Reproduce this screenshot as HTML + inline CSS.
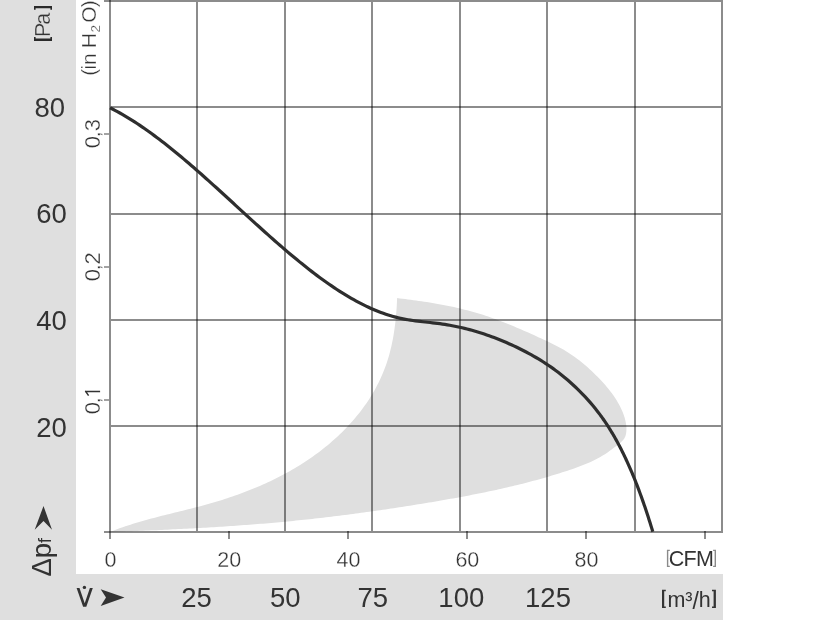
<!DOCTYPE html>
<html><head><meta charset="utf-8"><style>
html,body{margin:0;padding:0;background:#fff;}
body{width:816px;height:624px;overflow:hidden;position:relative;}
svg{position:absolute;left:0;top:0;will-change:transform;}
text{font-family:"Liberation Sans",sans-serif;fill:#333;}
</style></head><body>
<svg width="816" height="624" viewBox="0 0 816 624">
<rect x="0" y="0" width="76" height="620" fill="#dfdfdf"/>
<rect x="0" y="574" width="723" height="46" fill="#dfdfdf"/>
<path d="M110.00,532.00 L112.54,530.99 L115.09,530.00 L117.64,529.04 L120.20,528.11 L122.77,527.21 L125.34,526.33 L127.92,525.47 L130.50,524.63 L133.08,523.82 L135.67,523.02 L138.27,522.24 L140.87,521.48 L143.47,520.74 L146.08,520.01 L148.69,519.29 L151.30,518.59 L153.92,517.90 L156.54,517.21 L159.16,516.54 L161.78,515.87 L164.41,515.21 L167.03,514.56 L169.66,513.91 L172.29,513.26 L174.92,512.61 L177.55,511.97 L180.18,511.32 L182.81,510.67 L185.44,510.02 L188.07,509.36 L190.70,508.70 L193.33,508.03 L195.96,507.35 L198.58,506.67 L201.21,505.97 L203.83,505.26 L206.45,504.54 L209.07,503.81 L211.68,503.06 L214.29,502.29 L216.90,501.51 L219.51,500.72 L222.11,499.90 L224.71,499.07 L227.30,498.23 L229.88,497.37 L232.47,496.49 L235.04,495.59 L237.61,494.68 L240.18,493.75 L242.74,492.80 L245.29,491.83 L247.83,490.85 L250.37,489.85 L252.89,488.83 L255.41,487.79 L257.92,486.73 L260.43,485.65 L262.92,484.55 L265.40,483.44 L267.88,482.30 L270.34,481.15 L272.79,479.97 L275.24,478.77 L277.67,477.56 L280.09,476.32 L282.49,475.06 L284.89,473.78 L287.27,472.48 L289.64,471.15 L292.00,469.81 L294.34,468.44 L296.67,467.05 L298.99,465.64 L301.29,464.20 L303.58,462.74 L305.85,461.26 L308.10,459.76 L310.34,458.23 L312.57,456.68 L314.78,455.10 L316.97,453.51 L319.14,451.88 L321.30,450.23 L323.44,448.56 L325.56,446.86 L327.66,445.14 L329.74,443.39 L331.81,441.62 L333.85,439.82 L335.87,438.00 L337.87,436.15 L339.85,434.28 L341.80,432.38 L343.73,430.46 L345.64,428.52 L347.52,426.55 L349.37,424.56 L351.20,422.55 L352.99,420.51 L354.76,418.45 L356.50,416.37 L358.22,414.26 L359.90,412.13 L361.55,409.98 L363.16,407.81 L364.75,405.61 L366.30,403.39 L367.82,401.15 L369.30,398.89 L370.75,396.61 L372.16,394.30 L373.53,391.98 L374.87,389.63 L376.17,387.26 L377.43,384.87 L378.65,382.46 L379.82,380.03 L380.96,377.58 L382.06,375.11 L383.11,372.62 L384.12,370.11 L385.09,367.57 L386.01,365.02 L386.89,362.45 L387.72,359.86 L388.51,357.26 L389.26,354.64 L389.96,352.00 L390.63,349.35 L391.26,346.69 L391.85,344.02 L392.41,341.34 L392.92,338.65 L393.41,335.95 L393.86,333.25 L394.28,330.54 L394.66,327.83 L395.02,325.11 L395.34,322.40 L395.64,319.68 L395.91,316.97 L396.15,314.26 L396.37,311.55 L396.56,308.84 L396.73,306.15 L396.87,303.46 L397.00,300.77 L397.10,298.10 L399.81,298.42 L402.52,298.75 L405.23,299.09 L407.94,299.43 L410.66,299.78 L413.37,300.15 L416.08,300.52 L418.80,300.90 L421.51,301.29 L424.22,301.70 L426.94,302.12 L429.64,302.55 L432.35,302.99 L435.06,303.45 L437.76,303.93 L440.46,304.42 L443.16,304.92 L445.85,305.45 L448.54,305.99 L451.22,306.54 L453.90,307.12 L456.58,307.72 L459.25,308.33 L461.91,308.97 L464.57,309.63 L467.22,310.31 L469.87,311.01 L472.51,311.73 L475.14,312.48 L477.76,313.25 L480.38,314.05 L482.99,314.87 L485.59,315.72 L488.18,316.59 L490.77,317.48 L493.35,318.39 L495.92,319.32 L498.48,320.27 L501.04,321.24 L503.60,322.23 L506.14,323.23 L508.68,324.25 L511.22,325.29 L513.75,326.34 L516.28,327.40 L518.80,328.47 L521.32,329.56 L523.84,330.65 L526.35,331.76 L528.85,332.87 L531.36,333.99 L533.86,335.12 L536.36,336.25 L538.85,337.39 L541.35,338.53 L543.83,339.68 L546.32,340.84 L548.79,342.02 L551.25,343.21 L553.71,344.43 L556.14,345.67 L558.56,346.95 L560.96,348.26 L563.33,349.60 L565.68,350.99 L568.01,352.42 L570.30,353.90 L572.57,355.43 L574.81,357.01 L577.02,358.63 L579.20,360.30 L581.35,362.00 L583.48,363.75 L585.57,365.53 L587.64,367.34 L589.68,369.18 L591.70,371.06 L593.69,372.96 L595.65,374.89 L597.58,376.84 L599.49,378.81 L601.37,380.80 L603.22,382.82 L605.04,384.86 L606.81,386.92 L608.55,389.02 L610.24,391.16 L611.88,393.32 L613.47,395.53 L614.99,397.78 L616.46,400.08 L617.86,402.43 L619.20,404.82 L620.46,407.27 L621.64,409.78 L622.74,412.34 L623.73,414.95 L624.60,417.60 L625.32,420.28 L625.88,422.97 L626.26,425.68 L626.43,428.39 L626.37,431.10 L626.06,433.78 L625.39,436.36 L624.16,438.70 L622.44,440.79 L620.42,442.70 L618.27,444.48 L616.06,446.18 L613.84,447.83 L611.64,449.48 L609.46,451.11 L607.24,452.68 L604.98,454.18 L602.67,455.61 L600.33,456.98 L597.96,458.29 L595.55,459.54 L593.11,460.74 L590.64,461.90 L588.14,463.00 L585.63,464.07 L583.09,465.10 L580.53,466.09 L577.96,467.05 L575.37,467.98 L572.78,468.89 L570.17,469.78 L567.56,470.65 L564.95,471.51 L562.33,472.36 L559.71,473.19 L557.09,474.01 L554.46,474.82 L551.83,475.61 L549.20,476.40 L546.57,477.17 L543.93,477.93 L541.29,478.68 L538.65,479.42 L536.01,480.14 L533.37,480.86 L530.72,481.57 L528.07,482.26 L525.42,482.95 L522.76,483.63 L520.11,484.29 L517.45,484.95 L514.79,485.60 L512.13,486.24 L509.46,486.87 L506.80,487.49 L504.13,488.10 L501.46,488.70 L498.79,489.30 L496.12,489.89 L493.44,490.47 L490.77,491.04 L488.09,491.61 L485.41,492.17 L482.73,492.72 L480.05,493.26 L477.36,493.80 L474.68,494.33 L471.99,494.86 L469.30,495.38 L466.61,495.89 L463.92,496.40 L461.23,496.90 L458.54,497.40 L455.85,497.89 L453.15,498.38 L450.46,498.86 L447.76,499.34 L445.07,499.81 L442.37,500.28 L439.67,500.75 L436.97,501.21 L434.27,501.67 L431.57,502.13 L428.87,502.58 L426.17,503.03 L423.46,503.48 L420.76,503.92 L418.06,504.36 L415.35,504.80 L412.65,505.23 L409.94,505.66 L407.24,506.09 L404.53,506.52 L401.83,506.94 L399.12,507.36 L396.41,507.77 L393.70,508.18 L390.99,508.59 L388.28,509.00 L385.57,509.40 L382.86,509.80 L380.15,510.19 L377.44,510.59 L374.73,510.97 L372.02,511.36 L369.30,511.74 L366.59,512.12 L363.87,512.49 L361.16,512.86 L358.45,513.23 L355.73,513.59 L353.01,513.95 L350.30,514.31 L347.58,514.66 L344.86,515.01 L342.15,515.35 L339.43,515.69 L336.71,516.03 L333.99,516.37 L331.27,516.70 L328.55,517.02 L325.83,517.34 L323.11,517.66 L320.39,517.98 L317.67,518.29 L314.94,518.59 L312.22,518.89 L309.50,519.19 L306.77,519.49 L304.05,519.78 L301.33,520.06 L298.60,520.34 L295.88,520.62 L293.15,520.90 L290.43,521.17 L287.70,521.43 L284.97,521.69 L282.25,521.95 L279.52,522.20 L276.79,522.45 L274.06,522.69 L271.34,522.93 L268.61,523.17 L265.88,523.40 L263.15,523.63 L260.42,523.85 L257.69,524.07 L254.96,524.29 L252.23,524.51 L249.50,524.72 L246.77,524.92 L244.04,525.12 L241.31,525.32 L238.57,525.52 L235.84,525.71 L233.11,525.90 L230.38,526.09 L227.64,526.27 L224.91,526.45 L222.18,526.63 L219.44,526.80 L216.71,526.98 L213.98,527.14 L211.24,527.31 L208.51,527.47 L205.77,527.63 L203.04,527.79 L200.30,527.95 L197.57,528.10 L194.83,528.25 L192.10,528.40 L189.36,528.54 L186.63,528.68 L183.89,528.83 L181.16,528.96 L178.42,529.10 L175.68,529.24 L172.95,529.37 L170.21,529.50 L167.47,529.63 L164.74,529.75 L162.00,529.88 L159.27,530.00 L156.53,530.13 L153.79,530.25 L151.05,530.36 L148.32,530.48 L145.58,530.60 L142.84,530.71 L140.11,530.83 L137.37,530.94 L134.63,531.05 L131.90,531.16 L129.16,531.27 L126.42,531.37 L123.68,531.48 L120.95,531.59 L118.21,531.69 L115.47,531.79 L112.74,531.90 L110.00,532.00 Z" fill="#dfdfdf"/>
<g shape-rendering="crispEdges">
<rect x="196" y="2" width="2" height="529" fill="rgba(0,0,0,0.45)"/>
<rect x="284" y="2" width="2" height="529" fill="rgba(0,0,0,0.45)"/>
<rect x="371" y="2" width="2" height="529" fill="rgba(0,0,0,0.45)"/>
<rect x="459" y="2" width="2" height="529" fill="rgba(0,0,0,0.45)"/>
<rect x="546" y="2" width="2" height="529" fill="rgba(0,0,0,0.45)"/>
<rect x="634" y="2" width="2" height="529" fill="rgba(0,0,0,0.45)"/>
<rect x="721" y="2" width="2" height="529" fill="rgba(0,0,0,0.45)"/>
<rect x="109" y="0" width="2" height="539" fill="rgba(0,0,0,0.45)"/>
<rect x="111" y="106" width="610" height="2" fill="rgba(0,0,0,0.45)"/>
<rect x="111" y="213" width="610" height="2" fill="rgba(0,0,0,0.45)"/>
<rect x="111" y="319" width="610" height="2" fill="rgba(0,0,0,0.45)"/>
<rect x="111" y="425" width="610" height="2" fill="rgba(0,0,0,0.45)"/>
<rect x="103.5" y="0" width="619.5" height="2" fill="rgba(0,0,0,0.45)"/>
<rect x="103.5" y="531" width="619.5" height="2" fill="rgba(0,0,0,0.45)"/>
<rect x="228" y="531" width="2" height="8" fill="rgba(0,0,0,0.45)"/>
<rect x="347" y="531" width="2" height="8" fill="rgba(0,0,0,0.45)"/>
<rect x="466" y="531" width="2" height="8" fill="rgba(0,0,0,0.45)"/>
<rect x="585" y="531" width="2" height="8" fill="rgba(0,0,0,0.45)"/>
<rect x="704" y="531" width="2" height="8" fill="rgba(0,0,0,0.45)"/>
</g>
<rect x="104" y="133.2" width="5" height="1.6" fill="rgba(0,0,0,0.45)"/>
<rect x="104" y="266.2" width="5" height="1.6" fill="rgba(0,0,0,0.45)"/>
<rect x="104" y="399.2" width="5" height="1.6" fill="rgba(0,0,0,0.45)"/>
<path d="M110.00,107.78 L112.46,109.02 L114.92,110.30 L117.39,111.63 L119.85,112.99 L122.31,114.39 L124.77,115.82 L127.24,117.29 L129.70,118.80 L132.16,120.34 L134.62,121.91 L137.09,123.51 L139.55,125.15 L142.01,126.82 L144.47,128.51 L146.93,130.24 L149.40,132.00 L151.86,133.78 L154.32,135.59 L156.78,137.43 L159.25,139.29 L161.71,141.17 L164.17,143.08 L166.63,145.02 L169.10,146.97 L171.56,148.95 L174.02,150.95 L176.48,152.96 L178.94,155.00 L181.41,157.06 L183.87,159.13 L186.33,161.22 L188.79,163.32 L191.26,165.44 L193.72,167.58 L196.18,169.73 L198.64,171.89 L201.11,174.06 L203.57,176.25 L206.03,178.44 L208.49,180.64 L210.95,182.86 L213.42,185.08 L215.88,187.31 L218.34,189.54 L220.80,191.79 L223.27,194.03 L225.73,196.28 L228.19,198.54 L230.65,200.79 L233.12,203.05 L235.58,205.31 L238.04,207.57 L240.50,209.83 L242.96,212.09 L245.43,214.34 L247.89,216.60 L250.35,218.85 L252.81,221.09 L255.28,223.33 L257.74,225.56 L260.20,227.79 L262.66,230.01 L265.13,232.22 L267.59,234.42 L270.05,236.62 L272.51,238.80 L274.97,240.97 L277.44,243.12 L279.90,245.27 L282.36,247.40 L284.82,249.52 L287.29,251.62 L289.75,253.70 L292.21,255.77 L294.67,257.82 L297.14,259.85 L299.60,261.87 L302.06,263.86 L304.52,265.83 L306.98,267.78 L309.45,269.71 L311.91,271.62 L314.37,273.50 L316.83,275.35 L319.30,277.19 L321.76,278.99 L324.22,280.77 L326.68,282.52 L329.15,284.24 L331.61,285.94 L334.07,287.60 L336.53,289.23 L338.99,290.83 L341.46,292.40 L343.92,293.94 L346.38,295.44 L348.84,296.90 L351.31,298.34 L353.77,299.73 L356.23,301.09 L358.69,302.41 L361.16,303.69 L363.62,304.93 L366.08,306.13 L368.54,307.30 L371.01,308.42 L373.47,309.49 L375.93,310.53 L378.39,311.52 L380.85,312.46 L383.32,313.37 L385.78,314.22 L388.24,315.03 L390.70,315.79 L393.17,316.51 L395.63,317.17 L398.09,317.79 L400.55,318.36 L403.02,318.88 L405.48,319.35 L407.94,319.78 L410.40,320.17 L412.86,320.53 L415.33,320.86 L417.79,321.17 L420.25,321.45 L422.71,321.73 L425.18,322.00 L427.64,322.26 L430.10,322.53 L432.56,322.80 L435.03,323.09 L437.49,323.39 L439.95,323.71 L442.41,324.06 L444.87,324.44 L447.34,324.84 L449.80,325.27 L452.26,325.72 L454.72,326.20 L457.19,326.71 L459.65,327.25 L462.11,327.81 L464.57,328.40 L467.04,329.02 L469.50,329.66 L471.96,330.33 L474.42,331.03 L476.88,331.75 L479.35,332.50 L481.81,333.28 L484.27,334.09 L486.73,334.92 L489.20,335.78 L491.66,336.67 L494.12,337.59 L496.58,338.53 L499.05,339.50 L501.51,340.50 L503.97,341.52 L506.43,342.58 L508.89,343.66 L511.36,344.77 L513.82,345.91 L516.28,347.07 L518.74,348.27 L521.21,349.49 L523.67,350.74 L526.13,352.02 L528.59,353.33 L531.06,354.68 L533.52,356.07 L535.98,357.49 L538.44,358.95 L540.90,360.46 L543.37,362.01 L545.83,363.60 L548.29,365.25 L550.75,366.94 L553.22,368.68 L555.68,370.48 L558.14,372.33 L560.60,374.24 L563.07,376.21 L565.53,378.24 L567.99,380.33 L570.45,382.49 L572.91,384.71 L575.38,387.00 L577.84,389.36 L580.30,391.79 L582.76,394.30 L585.23,396.89 L587.69,399.57 L590.15,402.36 L592.61,405.25 L595.08,408.26 L597.54,411.39 L600.00,414.65 L600.50,415.33 L601.16,416.24 L601.82,417.16 L602.49,418.09 L603.15,419.03 L603.81,419.98 L604.47,420.94 L605.13,421.92 L605.80,422.90 L606.46,423.90 L607.12,424.91 L607.78,425.93 L608.44,426.96 L609.11,428.01 L609.77,429.06 L610.43,430.13 L611.09,431.21 L611.75,432.31 L612.42,433.42 L613.08,434.54 L613.74,435.67 L614.40,436.82 L615.06,437.98 L615.73,439.16 L616.39,440.35 L617.05,441.55 L617.71,442.76 L618.37,444.00 L619.04,445.24 L619.70,446.50 L620.36,447.78 L621.02,449.07 L621.68,450.37 L622.35,451.70 L623.01,453.03 L623.67,454.38 L624.33,455.75 L624.99,457.14 L625.66,458.54 L626.32,459.95 L626.98,461.39 L627.64,462.83 L628.31,464.30 L628.97,465.78 L629.63,467.28 L630.29,468.80 L630.95,470.34 L631.62,471.89 L632.28,473.46 L632.94,475.04 L633.60,476.65 L634.26,478.27 L634.93,479.92 L635.59,481.58 L636.25,483.26 L636.91,484.95 L637.57,486.67 L638.24,488.41 L638.90,490.16 L639.56,491.94 L640.22,493.73 L640.88,495.55 L641.55,497.38 L642.21,499.23 L642.87,501.11 L643.53,503.00 L644.19,504.92 L644.86,506.85 L645.52,508.81 L646.18,510.79 L646.84,512.79 L647.50,514.81 L648.17,516.85 L648.83,518.91 L649.49,521.00 L650.15,523.10 L650.81,525.23 L651.48,527.39 L652.14,529.56 L652.80,531.76" fill="none" stroke="#2e2e2e" stroke-width="3.2"/>
<text x="34.45" y="117.20" font-size="27.5">80</text>
<text x="36.34" y="223.30" font-size="27.5">60</text>
<text x="36.28" y="329.50" font-size="27.5">40</text>
<text x="36.30" y="436.60" font-size="27.5">20</text>
<text transform="translate(50.00,24.84) rotate(-90)" font-size="21.5" stroke="#dfdfdf" stroke-width="0.3">a</text>
<text transform="translate(50.00,36.94) rotate(-90)" font-size="21.5" stroke="#dfdfdf" stroke-width="0.3">P</text>
<path d="M34,6 H52 V9.7 H50.4 V8.3 H35.6 V9.7 H34 Z M34,40.9 H52 V36.9 H50.4 V38.4 H35.6 V36.9 H34 Z" fill="#2a2a2a"/>
<text transform="translate(95.60,7.21) rotate(-90)" font-size="21" stroke="#fff" stroke-width="0.3">)</text>
<text transform="translate(95.60,22.76) rotate(-90)" font-size="21" stroke="#fff" stroke-width="0.3">O</text>
<text transform="translate(100.00,32.40) rotate(-90)" font-size="13.5" stroke="#fff" stroke-width="0.3">2</text>
<text transform="translate(95.60,48.34) rotate(-90)" font-size="21" stroke="#fff" stroke-width="0.3">H</text>
<text transform="translate(95.60,65.10) rotate(-90)" font-size="21" stroke="#fff" stroke-width="0.3">n</text>
<text transform="translate(95.60,69.53) rotate(-90)" font-size="21" stroke="#fff" stroke-width="0.3">i</text>
<text transform="translate(95.60,75.84) rotate(-90)" font-size="21" stroke="#fff" stroke-width="0.3">(</text>
<text transform="translate(100.20,148.32) rotate(-90)" font-size="22" stroke="#fff" stroke-width="0.3">0</text>
<text transform="translate(100.30,137.22) rotate(-90)" font-size="21" stroke="#fff" stroke-width="0.3">,</text>
<text transform="translate(100.20,131.35) rotate(-90)" font-size="22" stroke="#fff" stroke-width="0.3">3</text>
<text transform="translate(100.20,281.32) rotate(-90)" font-size="22" stroke="#fff" stroke-width="0.3">0</text>
<text transform="translate(100.30,270.22) rotate(-90)" font-size="21" stroke="#fff" stroke-width="0.3">,</text>
<text transform="translate(100.20,264.42) rotate(-90)" font-size="22" stroke="#fff" stroke-width="0.3">2</text>
<text transform="translate(100.20,414.32) rotate(-90)" font-size="22" stroke="#fff" stroke-width="0.3">0</text>
<text transform="translate(100.30,403.22) rotate(-90)" font-size="21" stroke="#fff" stroke-width="0.3">,</text>
<path d="M85,391.4 H100.1 M85.3,390.9 L88.6,395.6" stroke="#333" stroke-width="1.5" fill="none"/>
<text x="104.62" y="566.70" font-size="21.5" stroke="#fff" stroke-width="0.3">0</text>
<text x="217.32" y="566.70" font-size="21.5" stroke="#fff" stroke-width="0.3">20</text>
<text x="336.62" y="566.70" font-size="21.5" stroke="#fff" stroke-width="0.3">40</text>
<text x="455.42" y="566.70" font-size="21.5" stroke="#fff" stroke-width="0.3">60</text>
<text x="574.50" y="566.70" font-size="21.5" stroke="#fff" stroke-width="0.3">80</text>
<text x="668.70" y="566.40" font-size="21.5">C</text>
<text x="683.48" y="566.20" font-size="21.5">F</text>
<text x="695.90" y="566.20" font-size="21.5">M</text>
<text x="181.24" y="607.10" font-size="27.5">25</text>
<text x="270.09" y="607.10" font-size="27.5">50</text>
<text x="357.48" y="607.10" font-size="27.5">75</text>
<text x="438.35" y="607.10" font-size="27.5">100</text>
<text x="525.09" y="607.10" font-size="27.5">125</text>
<text x="667.39" y="606.90" font-size="21.5">m</text>
<text x="685.19" y="606.90" font-size="21.5">³</text>
<text x="692.60" y="608.60" font-size="23">/</text>
<text x="698.82" y="606.90" font-size="21.5">h</text>
<text transform="translate(51,576.6) rotate(-90)" font-size="27.5">Δp<tspan font-size="17.5">f</tspan></text>
<path d="M666.9,550.4 H669.8 M667.6,550.4 V566.4 M666.9,566.4 H669.8 M716,550.4 H713.1 M715.3,550.4 V566.4 M716,566.4 H713.1" stroke="#8a8a8a" stroke-width="1.4" fill="none"/>
<path d="M662,589.8 H665.8 V591.3 H664.2 V606.4 H665.8 V607.9 H662 Z M715.9,589.8 H712 V591.3 H713.6 V606.4 H712 V607.9 H715.9 Z" fill="#333"/>
<path d="M76.6,587.9 L79.5,587.9 L84.7,603.2 L89.9,587.9 L92.8,587.9 L86.3,606.8 L83.1,606.8 Z" fill="#333"/>
<circle cx="84.4" cy="587.4" r="1.7" fill="#333"/>
<path d="M100.7,589.2 L124.5,597.5 L100.7,605.9 L106,597.5 Z" fill="#333"/>
<path d="M43.5,506 L52,529.7 L43.5,521 L34.7,529.7 Z" fill="#333"/>
</svg>
</body></html>
